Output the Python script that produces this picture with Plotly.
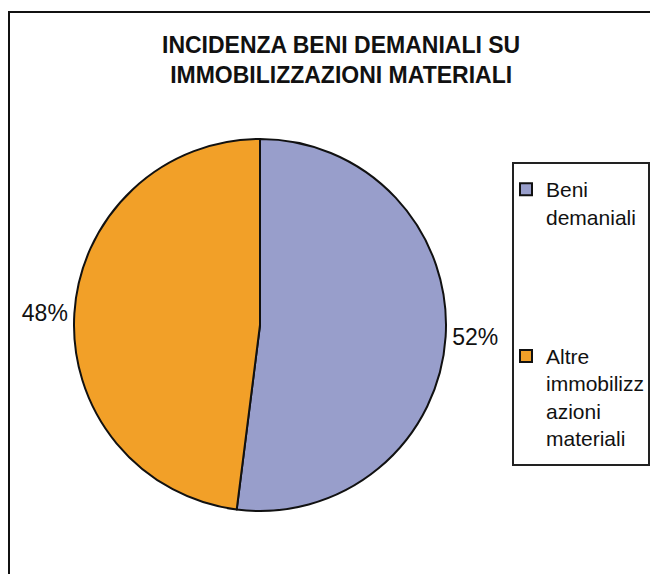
import plotly.graph_objects as go

# data
labels = ["Beni demaniali", "Altre immobilizzazioni materiali"]
legend_labels = ["Beni<br>demaniali<br> <br> <br> <br>", "Altre<br>immobilizz<br>azioni<br>materiali"]
values = [52, 48]
colors = ["#989ECB", "#F2A028"]

W, H = 650, 566
OFF = 8  # page body margin in the browser


def px_x(x):
    return (x - OFF) / W


def px_y(y):
    return 1 - (y - OFF) / H


fig = go.Figure(
    go.Pie(
        labels=legend_labels,
        values=values,
        sort=False,
        direction="clockwise",
        rotation=0,
        marker=dict(colors=colors, line=dict(color="#111111", width=2)),
        textinfo="percent",
        textposition="outside",
        textfont=dict(family="Liberation Sans, Arial", size=23, color="#111111"),
        domain=dict(x=[px_x(74), px_x(446)], y=[px_y(511), px_y(139)]),
        hoverinfo="label+percent",
    )
)

fig.update_layout(
    width=W,
    height=H,
    margin=dict(l=0, r=0, t=0, b=0),
    paper_bgcolor="white",
    plot_bgcolor="white",
    showlegend=True,
    legend=dict(
        x=px_x(506),
        y=px_y(169),
        xanchor="left",
        yanchor="top",
        valign="top",
        font=dict(family="Liberation Sans, Arial", size=21, color="#111111"),
        bgcolor="rgba(0,0,0,0)",
        borderwidth=0,
    ),
    annotations=[
        dict(
            text="<b>INCIDENZA BENI DEMANIALI SU<br>IMMOBILIZZAZIONI MATERIALI</b>",
            x=px_x(341),
            y=px_y(60),
            xref="paper",
            yref="paper",
            xanchor="center",
            yanchor="middle",
            showarrow=False,
            font=dict(family="Liberation Sans, Arial", size=23, color="#111111"),
        )
    ],
    shapes=[
        # outer chart frame (cut by the right and bottom of the picture)
        dict(type="rect", xref="paper", yref="paper",
             x0=px_x(9), x1=1.05, y0=-0.05, y1=px_y(12),
             line=dict(color="#111111", width=2)),
        # legend box
        dict(type="rect", xref="paper", yref="paper",
             x0=px_x(513), x1=px_x(649), y0=px_y(465), y1=px_y(163),
             line=dict(color="#222222", width=2)),
    ],
)

fig.write_html("out.html")
